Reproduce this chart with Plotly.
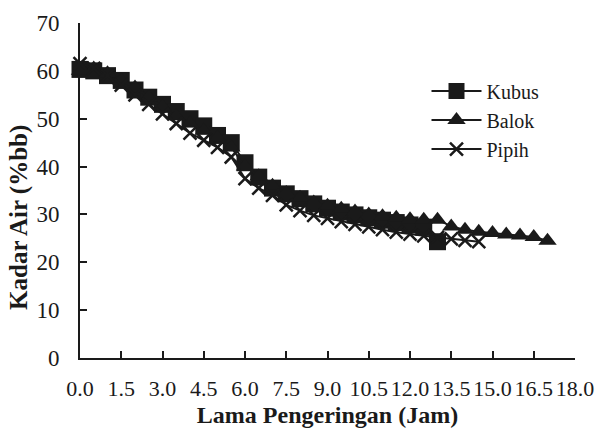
import plotly.graph_objects as go

# Time (hours) for each series
t_kubus = [0.0, 0.5, 1.0, 1.5, 2.0, 2.5, 3.0, 3.5, 4.0, 4.5, 5.0, 5.5, 6.0, 6.5,
           7.0, 7.5, 8.0, 8.5, 9.0, 9.5, 10.0, 10.5, 11.0, 11.5, 12.0, 12.5, 13.0]
kubus = [60.3, 60.0, 59.0, 58.0, 56.0, 54.5, 53.0, 51.5, 50.0, 48.5, 46.5, 45.0, 40.8, 37.8,
         35.5, 34.3, 33.3, 32.2, 31.3, 30.5, 29.9, 29.3, 28.8, 28.3, 27.8, 27.3, 24.3]

t_balok = [0.0, 0.5, 1.0, 1.5, 2.0, 2.5, 3.0, 3.5, 4.0, 4.5, 5.0, 5.5, 6.0, 6.5,
           7.0, 7.5, 8.0, 8.5, 9.0, 9.5, 10.0, 10.5, 11.0, 11.5, 12.0, 12.5, 13.0,
           13.5, 14.0, 14.5, 15.0, 15.5, 16.0, 16.5, 17.0]
balok = [60.0, 60.5, 59.5, 58.0, 56.5, 54.5, 52.5, 50.5, 49.0, 47.5, 46.0, 44.0, 40.0, 38.0,
         36.0, 34.5, 33.5, 32.5, 31.8, 31.2, 30.6, 30.0, 29.6, 29.3, 29.0, 28.9, 28.9,
         27.5, 26.8, 26.4, 26.1, 25.8, 25.6, 25.3, 24.5]

t_pipih = [0.0, 0.5, 1.0, 1.5, 2.0, 2.5, 3.0, 3.5, 4.0, 4.5, 5.0, 5.5, 6.0, 6.5,
           7.0, 7.5, 8.0, 8.5, 9.0, 9.5, 10.0, 10.5, 11.0, 11.5, 12.0, 12.5, 13.0,
           13.5, 14.0, 14.5]
pipih = [61.5, 60.5, 59.0, 57.0, 55.0, 53.0, 51.0, 49.0, 47.0, 45.5, 44.0, 42.0, 37.5, 35.5,
         34.0, 32.0, 30.8, 29.8, 29.2, 28.5, 27.9, 27.4, 26.8, 26.3, 25.9, 25.5, 25.2,
         24.9, 24.6, 24.3]

x_ticks = [0.0, 1.5, 3.0, 4.5, 6.0, 7.5, 9.0, 10.5, 12.0, 13.5, 15.0, 16.5, 18.0]
y_ticks = [0, 10, 20, 30, 40, 50, 60, 70]

FONT = "Liberation Serif, Times New Roman, serif"
INK = "#1a1a1a"

fig = go.Figure()
fig.add_trace(go.Scatter(
    x=t_kubus, y=kubus, name="Kubus", mode="lines+markers", legendgroup="a",
    line=dict(color=INK, width=2),
    marker=dict(symbol="square", size=17, color=INK, line=dict(width=0)),
    cliponaxis=False))
fig.add_trace(go.Scatter(
    x=t_balok, y=balok, name="Balok", mode="lines+markers", legendgroup="b",
    line=dict(color=INK, width=2),
    marker=dict(symbol="triangle-up", size=16, color=INK, line=dict(width=0)),
    cliponaxis=False))
fig.add_trace(go.Scatter(
    x=t_pipih, y=pipih, name="Pipih", mode="lines+markers", legendgroup="c",
    line=dict(color=INK, width=2),
    marker=dict(symbol="x-thin", size=13, color=INK,
                line=dict(width=2.5, color=INK)),
    cliponaxis=False))

fig.update_layout(
    width=595, height=434,
    margin=dict(l=80, r=20, t=23, b=76),
    paper_bgcolor="white", plot_bgcolor="white",
    font=dict(family=FONT, size=22, color=INK),
    showlegend=True,
    legend=dict(x=0.70, y=0.855, xanchor="left", yanchor="top",
                bgcolor="rgba(0,0,0,0)", tracegroupgap=0, itemwidth=50,
                font=dict(family=FONT, size=20, color=INK)),
    xaxis=dict(range=[0, 18], tickvals=x_ticks, ticktext=[f"{v:.1f}" for v in x_ticks],
               tickangle=0, automargin=False,
               showline=True, linecolor=INK, linewidth=2,
               ticks="inside", ticklen=7, tickwidth=2, tickcolor=INK,
               showgrid=False, zeroline=False, ticklabelstandoff=10,
               tickfont=dict(family=FONT, size=22, color=INK),
               title=dict(text="<b>Lama Pengeringan (Jam)</b>", standoff=6,
                          font=dict(family=FONT, size=24, color=INK))),
    yaxis=dict(range=[0, 70], tickvals=y_ticks, automargin=False,
               showline=True, linecolor=INK, linewidth=2,
               ticks="inside", ticklen=7, tickwidth=2, tickcolor=INK,
               showgrid=False, zeroline=False, ticklabelstandoff=14,
               tickfont=dict(family=FONT, size=23, color=INK)),
    annotations=[dict(text="<b>Kadar Air (%bb)</b>", textangle=-90,
                      xref="paper", yref="paper", x=-0.122, y=0.42,
                      xanchor="center", yanchor="middle", showarrow=False,
                      font=dict(family=FONT, size=25, color=INK))],
)

fig.write_html("out.html")
